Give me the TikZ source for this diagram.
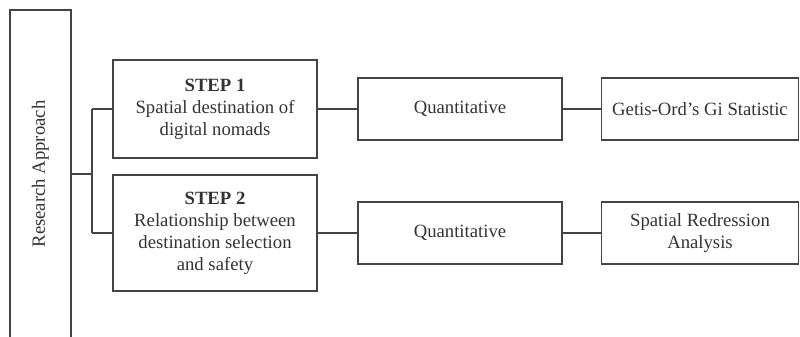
\documentclass[tikz,border=0pt]{standalone}
\usepackage{fontspec}
\setmainfont{Liberation Serif}
\definecolor{ink}{HTML}{333333}
\definecolor{edge}{HTML}{444444}
\begin{document}
\begin{tikzpicture}[x=1pt,y=1pt,
  box/.style={draw=edge, line width=1.4pt, inner sep=0pt, align=center,
    text=ink, font=\fontsize{18.7}{22}\selectfont},
  link/.style={draw=edge, line width=1.4pt}]
\useasboundingbox (0,0) rectangle (800,337);
\node[box, rotate=90, minimum width=328pt, minimum height=61pt] (ra) at (40.5,163) {Research Approach};
\node[box, minimum width=204pt, minimum height=98pt] (s1) at (215,228) {\textbf{STEP 1}\\Spatial destination of\\digital nomads};
\node[box, minimum width=204pt, minimum height=116pt] (s2) at (215,104) {\textbf{STEP 2}\\Relationship between\\destination selection\\and safety};
\node[box, minimum width=204pt, minimum height=62pt] (q1) at (460,228) {Quantitative};
\node[box, minimum width=204pt, minimum height=62pt] (q2) at (460,104) {Quantitative};
\node[box, minimum width=197pt, minimum height=62pt] (g1) at (700,228) {Getis-Ord’s Gi Statistic};
\node[box, minimum width=197pt, minimum height=62pt] (r2) at (700,104) {Spatial Redression\\Analysis};
\coordinate (j) at (92,163);
\draw[link] (j -| ra.south) -- (j);
\draw[link] (j |- s1.west) -- (j |- s2.west);
\draw[link] (j |- s1.west) -- (s1.west);
\draw[link] (j |- s2.west) -- (s2.west);
\draw[link] (s1.east) -- (q1.west);
\draw[link] (s2.east) -- (q2.west);
\draw[link] (q1.east) -- (g1.west);
\draw[link] (q2.east) -- (r2.west);
\end{tikzpicture}
\end{document}
